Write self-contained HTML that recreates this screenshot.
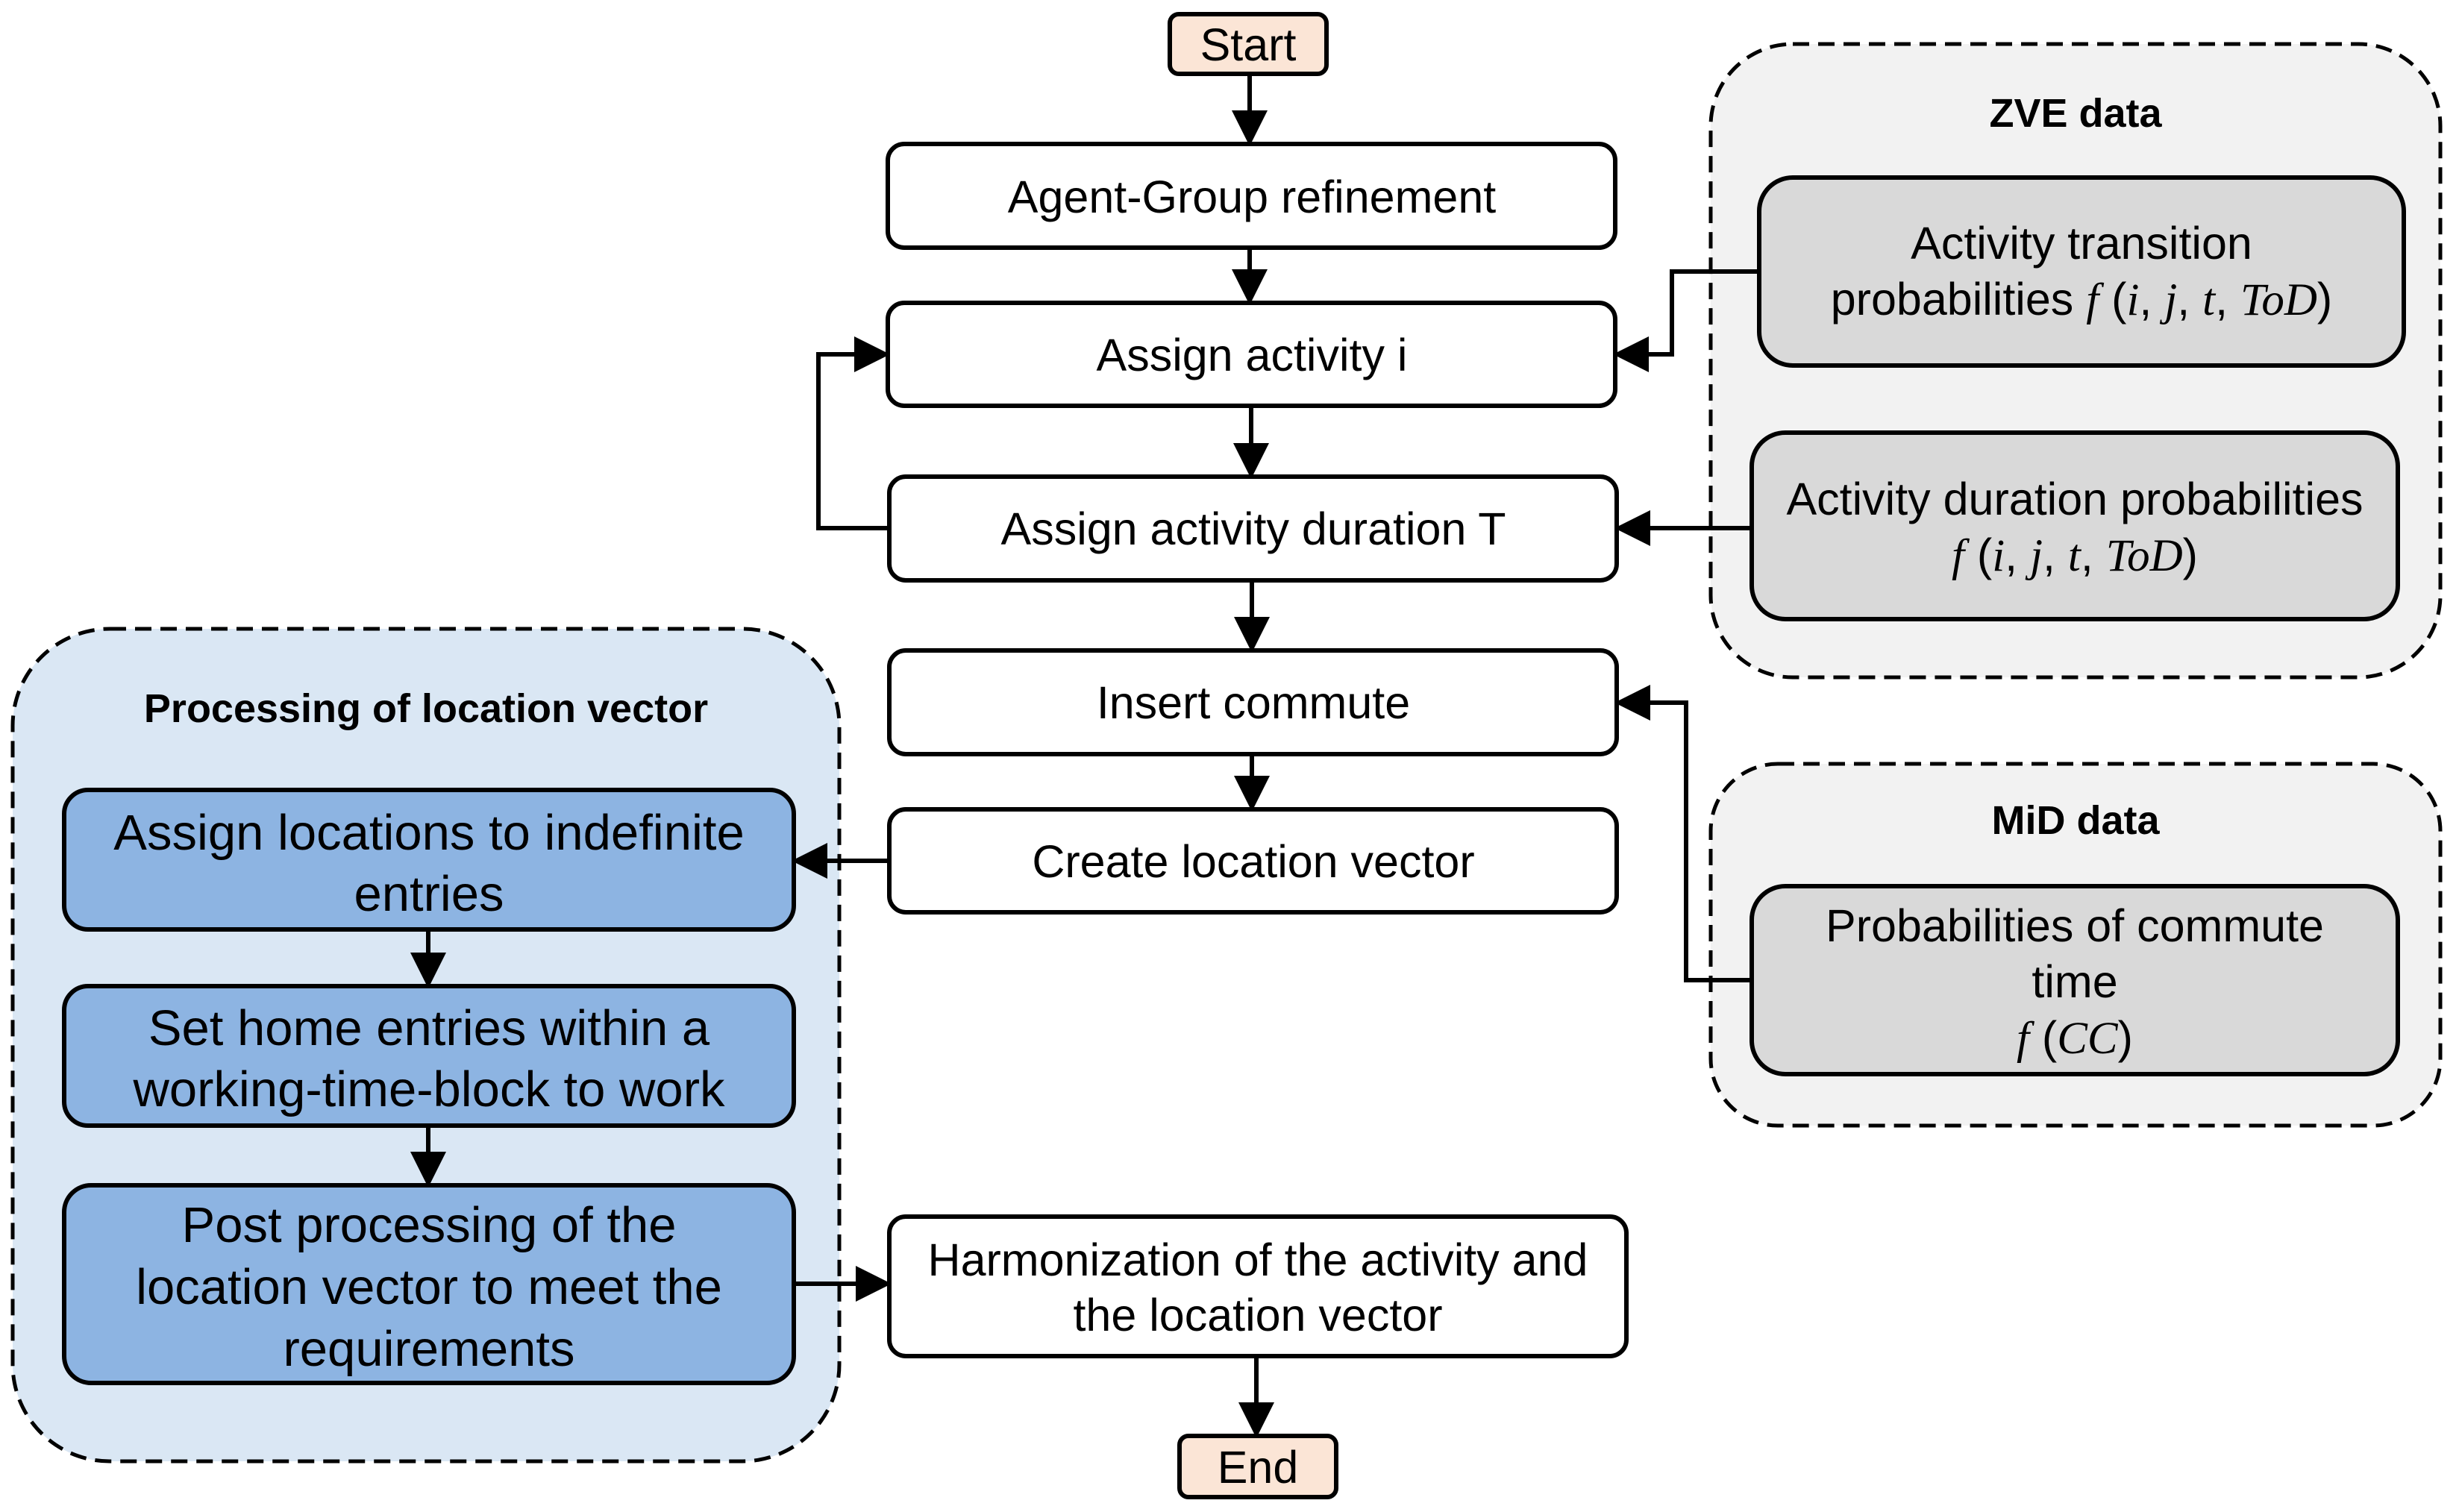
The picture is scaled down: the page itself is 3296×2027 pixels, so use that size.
<!DOCTYPE html>
<html><head><meta charset="utf-8"><style>
html,body{margin:0;padding:0;background:#fff;}
svg{display:block;}
text{font-family:"Liberation Sans",sans-serif;fill:#000;}
.m{font-size:61px;}
.b{font-size:67px;}
.t{font-size:54px;font-weight:bold;}
.f{font-family:"Liberation Serif",serif;font-style:italic;}
</style></head><body>
<svg width="3296" height="2027" viewBox="0 0 3296 2027" xmlns="http://www.w3.org/2000/svg">
<defs>
<marker id="a" markerWidth="8" markerHeight="8" refX="7" refY="4" orient="auto" markerUnits="strokeWidth">
<path d="M0,0 L8,4 L0,8 z" fill="#000"/></marker>
</defs>
<rect x="17" y="843" width="1108" height="1116" rx="130" fill="#dae7f4" stroke="#000" stroke-width="5" stroke-dasharray="22,12"/>
<rect x="2293" y="59" width="978" height="849" rx="110" fill="#f2f2f2" stroke="#000" stroke-width="5" stroke-dasharray="22,12"/>
<rect x="2293" y="1024" width="978" height="485" rx="90" fill="#f2f2f2" stroke="#000" stroke-width="5" stroke-dasharray="22,12"/>
<text class="t" x="571" y="968" text-anchor="middle">Processing of location vector</text>
<text class="t" x="2782" y="170" text-anchor="middle">ZVE data</text>
<text class="t" x="2782" y="1118" text-anchor="middle">MiD data</text>

<g stroke="#000" stroke-width="6">
<rect x="1568" y="19" width="210" height="80" rx="12" fill="#fbe5d6"/>
<rect x="1190" y="193" width="975" height="139" rx="22" fill="#fff"/>
<rect x="1190" y="406" width="975" height="138" rx="22" fill="#fff"/>
<rect x="1192" y="639" width="975" height="139" rx="22" fill="#fff"/>
<rect x="1192" y="872" width="975" height="139" rx="22" fill="#fff"/>
<rect x="1192" y="1085" width="975" height="138" rx="22" fill="#fff"/>
<rect x="1192" y="1631" width="988" height="187" rx="22" fill="#fff"/>
<rect x="1581" y="1925" width="210" height="82" rx="12" fill="#fbe5d6"/>
<rect x="2358" y="238" width="864" height="252" rx="45" fill="#d9d9d9"/>
<rect x="2348" y="580" width="866" height="250" rx="45" fill="#d9d9d9"/>
<rect x="2348" y="1188" width="866" height="252" rx="45" fill="#d9d9d9"/>
<rect x="86" y="1059" width="978" height="187" rx="32" fill="#8db4e2"/>
<rect x="86" y="1322" width="978" height="187" rx="32" fill="#8db4e2"/>
<rect x="86" y="1589" width="978" height="265" rx="36" fill="#8db4e2"/>
</g>

<g class="m" text-anchor="middle">
<text x="1673" y="81">Start</text>
<text x="1678" y="285">Agent-Group refinement</text>
<text x="1678" y="497">Assign activity i</text>
<text x="1680" y="730">Assign activity duration T</text>
<text x="1680" y="963">Insert commute</text>
<text x="1680" y="1176">Create location vector</text>
<text x="1686" y="1710">Harmonization of the activity and</text>
<text x="1686" y="1784">the location vector</text>
<text x="1686" y="1988">End</text>
<text x="2790" y="347">Activity transition</text>
<text x="2790" y="422">probabilities <tspan class="f">f</tspan> (<tspan class="f">i</tspan>, <tspan class="f">j</tspan>, <tspan class="f">t</tspan>, <tspan class="f">ToD</tspan>)</text>
<text x="2781" y="690">Activity duration probabilities</text>
<text x="2781" y="765"><tspan class="f">f</tspan> (<tspan class="f">i</tspan>, <tspan class="f">j</tspan>, <tspan class="f">t</tspan>, <tspan class="f">ToD</tspan>)</text>
<text x="2781" y="1262">Probabilities of commute</text>
<text x="2781" y="1337">time</text>
<text x="2781" y="1412"><tspan class="f">f</tspan> (<tspan class="f">CC</tspan>)</text>
</g>
<g class="b" text-anchor="middle">
<text x="575" y="1139">Assign locations to indefinite</text>
<text x="575" y="1221">entries</text>
<text x="575" y="1401">Set home entries within a</text>
<text x="575" y="1483">working-time-block to work</text>
<text x="575" y="1665">Post processing of the</text>
<text x="575" y="1748">location vector to meet the</text>
<text x="575" y="1831">requirements</text>
</g>

<g stroke="#000" stroke-width="6" fill="none" marker-end="url(#a)">
<line x1="1675" y1="99" x2="1675" y2="190"/>
<line x1="1675" y1="332" x2="1675" y2="403"/>
<line x1="1677" y1="544" x2="1677" y2="636"/>
<line x1="1678" y1="778" x2="1678" y2="869"/>
<line x1="1678" y1="1011" x2="1678" y2="1082"/>
<polyline points="1192,708 1097,708 1097,475 1187,475"/>
<polyline points="2358,364 2241,364 2241,475 2168,475"/>
<line x1="2348" y1="708" x2="2170" y2="708"/>
<polyline points="2348,1314 2260,1314 2260,942 2170,942"/>
<line x1="1192" y1="1154" x2="1067" y2="1154"/>
<line x1="574" y1="1246" x2="574" y2="1319"/>
<line x1="574" y1="1509" x2="574" y2="1586"/>
<line x1="1064" y1="1721" x2="1189" y2="1721"/>
<line x1="1684" y1="1818" x2="1684" y2="1922"/>
</g>
</svg>
</body></html>
